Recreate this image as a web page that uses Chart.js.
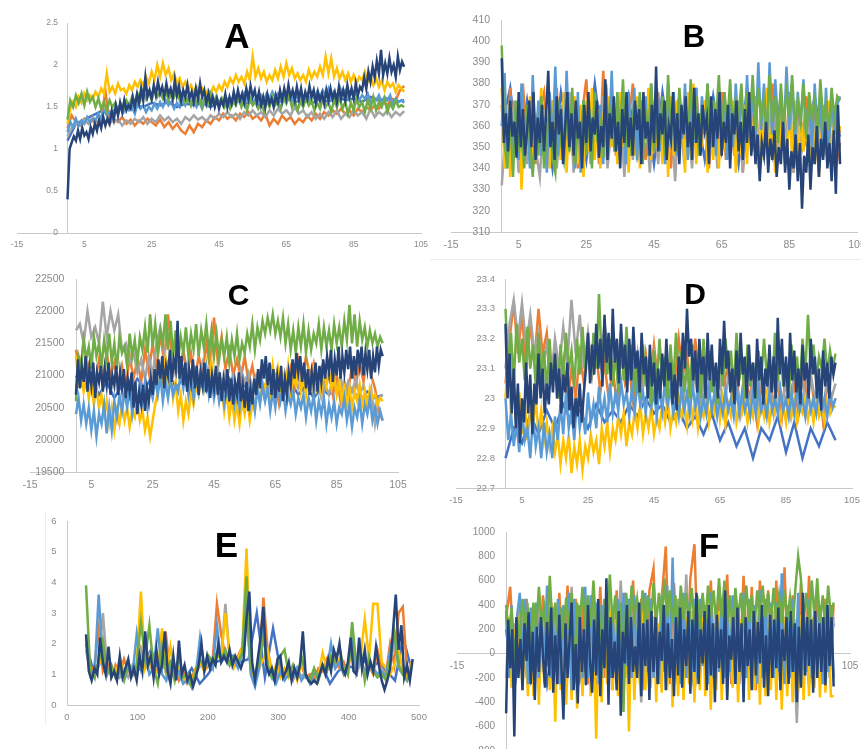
<!DOCTYPE html>
<html>
<head>
<meta charset="utf-8">
<script src="https://cdn.jsdelivr.net/npm/chart.js@4.4.1/dist/chart.umd.min.js"></script>
<style>
  html, body { margin: 0; padding: 0; background: #fff; width: 861px; height: 749px; overflow: hidden; }
  canvas { position: absolute; }
  .ttl { position: absolute; font-family: "Liberation Sans", Arial, sans-serif; font-weight: bold; color: #000; line-height: 1; transform: translate(-50%, -50%); }
  .rule { position: absolute; background: #ececec; }
</style>
</head>
<body>
<div class="rule" style="left:430px;top:259px;width:431px;height:1px"></div>
<div class="rule" style="left:45px;top:512px;width:1px;height:212px"></div>
<script>
// tick labels
const ticksX = [-15, 5, 25, 45, 65, 85, 105];
const ticksXE = [0, 100, 200, 300, 400, 500];
const ticksYA = [0, 0.5, 1, 1.5, 2, 2.5];
const ticksYB = [310, 320, 330, 340, 350, 360, 370, 380, 390, 400, 410];
const ticksYC = [19500, 20000, 20500, 21000, 21500, 22000, 22500];
const ticksYD = [22.7, 22.8, 22.9, 23, 23.1, 23.2, 23.3, 23.4];
const ticksYE = [0, 1, 2, 3, 4, 5, 6];
const ticksYF = [-800, -600, -400, -200, 0, 200, 400, 600, 800, 1000];

const navy = '#264478', green = '#70AD47', lblue = '#5B9BD5', yellow = '#FFC000',
      gray = '#A5A5A5', orange = '#ED7D31', blue = '#4472C4';

// ---- A ----
const aNavy = [0.40,1.00,1.08,1.15,1.10,1.22,1.12,1.25,1.16,1.20,
  1.12,1.26,1.18,1.30,1.22,1.34,1.25,1.38,1.28,1.36,
  1.30,1.45,1.35,1.52,1.40,1.55,1.44,1.58,1.46,1.52,
  1.48,1.62,1.50,1.65,1.55,1.72,1.58,1.85,1.62,1.70,
  1.60,1.76,1.64,1.80,1.66,1.74,1.62,1.78,1.65,1.72,
  1.60,1.82,1.64,1.75,1.58,1.70,1.62,1.76,1.60,1.68,
  1.56,1.72,1.60,1.78,1.62,1.70,1.55,1.66,1.52,1.62,
  1.50,1.60,1.48,1.58,1.52,1.65,1.50,1.62,1.54,1.68,
  1.56,1.70,1.58,1.66,1.55,1.72,1.60,1.75,1.62,1.70,
  1.56,1.68,1.52,1.62,1.50,1.65,1.54,1.60,1.50,1.64,
  1.55,1.70,1.58,1.72,1.60,1.76,1.62,1.70,1.58,1.74,
  1.60,1.72,1.56,1.68,1.60,1.75,1.62,1.70,1.55,1.68,
  1.58,1.66,1.54,1.70,1.58,1.72,1.60,1.68,1.56,1.74,
  1.60,1.70,1.58,1.76,1.62,1.72,1.60,1.78,1.64,1.74,
  1.70,1.85,1.72,1.92,1.80,1.98,1.85,2.05,1.90,2.18,
  1.88,2.02,1.90,2.08,1.92,2.00,1.86,2.10,1.94,2.04,1.98];
const aGreen = [1.35,1.58,1.50,1.64,1.55,1.66,1.52,1.68,1.56,1.62,
  1.50,1.60,1.48,1.56,1.45,1.58,1.50,1.55,1.46,1.54,
  1.48,1.58,1.52,1.62,1.55,1.66,1.58,1.70,1.60,1.68,
  1.58,1.72,1.62,1.68,1.60,1.70,1.58,1.66,1.62,1.72,
  1.58,1.66,1.55,1.62,1.52,1.64,1.55,1.60,1.50,1.62,
  1.54,1.66,1.56,1.62,1.52,1.60,1.50,1.58,1.48,1.56,
  1.52,1.62,1.50,1.58,1.46,1.60,1.52,1.56,1.48,1.55,
  1.45,1.58,1.50,1.62,1.52,1.56,1.48,1.60,1.54,1.64,
  1.50,1.58,1.46,1.56,1.50,1.60,1.52,1.58,1.46,1.55,
  1.48,1.60,1.50,1.56,1.44,1.58,1.50,1.62,1.48,1.56,
  1.42,1.55,1.46,1.60,1.50,1.56,1.44,1.58,1.48,1.62,
  1.46,1.56,1.50,1.60,1.44,1.54,1.48,1.58,1.50,1.52,1.50];
const aLblue = [1.20,1.32,1.26,1.36,1.28,1.34,1.30,1.38,1.32,1.36,
  1.34,1.42,1.36,1.46,1.40,1.44,1.38,1.48,1.42,1.50,
  1.44,1.52,1.46,1.50,1.42,1.54,1.48,1.52,1.44,1.50,
  1.46,1.54,1.48,1.56,1.50,1.58,1.52,1.56,1.48,1.55,
  1.50,1.58,1.52,1.60,1.54,1.58,1.50,1.56,1.48,1.58,
  1.52,1.60,1.54,1.62,1.56,1.60,1.52,1.58,1.50,1.60,
  1.54,1.62,1.56,1.66,1.58,1.62,1.54,1.60,1.56,1.64,
  1.58,1.66,1.60,1.68,1.62,1.66,1.58,1.64,1.56,1.62,
  1.58,1.66,1.60,1.64,1.56,1.62,1.58,1.66,1.60,1.68,
  1.62,1.70,1.64,1.72,1.60,1.68,1.62,1.74,1.66,1.70,
  1.60,1.68,1.62,1.66,1.58,1.64,1.60,1.66,1.56,1.62,
  1.58,1.64,1.55,1.62,1.58,1.64,1.52,1.60,1.56,1.58,1.55];
const aYellow = [1.30,1.48,1.56,1.50,1.62,1.55,1.66,1.58,1.64,1.60,
  1.68,1.62,1.72,1.66,1.90,1.68,1.74,1.66,1.78,1.70,
  1.72,1.66,1.76,1.70,1.80,1.74,1.82,1.76,1.86,1.78,
  1.92,1.82,2.00,1.86,2.02,1.88,1.96,1.82,1.90,1.78,
  1.84,1.74,1.80,1.70,1.76,1.68,1.74,1.66,1.72,1.64,
  1.70,1.66,1.74,1.68,1.76,1.70,1.80,1.74,1.84,1.78,
  1.88,1.80,1.86,1.78,1.92,1.82,2.10,1.86,1.96,1.84,
  1.92,1.80,1.88,1.82,1.94,1.84,1.98,1.86,2.02,1.88,
  1.96,1.84,1.90,1.82,1.88,1.80,1.94,1.84,1.92,1.86,
  1.98,1.88,2.10,1.90,2.08,1.86,1.96,1.84,1.92,1.82,
  1.90,1.80,1.88,1.78,1.86,1.82,1.92,1.80,1.86,1.76,
  1.84,1.74,1.82,1.70,1.80,1.74,1.78,1.68,1.76,1.72,1.68];
const aGray = [1.15,1.25,1.30,1.28,1.35,1.30,1.38,1.32,1.36,1.30,1.38,1.32,1.35,1.28,1.34,1.30,1.36,1.32,1.38,1.30,1.36,1.32,1.40,1.34,1.38,1.32,1.36,1.30,1.38,1.34,1.40,1.35,1.38,1.33,1.40,1.36,1.42,1.38,1.44,1.38,1.42,1.36,1.44,1.40,1.46,1.40,1.44,1.38,1.46,1.40,1.48,1.42,1.46,1.40,1.50,1.42,1.46,1.38,1.44,1.36,1.42,1.36,1.44,1.38,1.46,1.36,1.42,1.38,1.46,1.40,1.44,1.36,1.48,1.38,1.44,1.40,1.46,1.38,1.44,1.40,1.45];
const aOrange = [1.25,1.40,1.32,1.28,1.36,1.30,1.34,1.28,1.32,1.70,1.30,1.36,1.32,1.38,1.30,1.35,1.28,1.34,1.30,1.36,1.32,1.28,1.35,1.26,1.32,1.24,1.30,1.22,1.18,1.28,1.20,1.30,1.26,1.34,1.30,1.38,1.34,1.42,1.36,1.40,1.34,1.42,1.38,1.44,1.36,1.40,1.34,1.42,1.28,1.36,1.30,1.40,1.34,1.38,1.30,1.36,1.32,1.40,1.34,1.42,1.36,1.44,1.40,1.46,1.42,1.48,1.42,1.46,1.40,1.48,1.44,1.50,1.46,1.52,1.48,1.56,1.52,1.60,1.58,1.70,1.75];
const aBlue = [1.10,1.30,1.35,1.40,1.45,1.42,1.50,1.48,1.52,1.50,1.55,1.52,1.56,1.50,1.54,1.52,1.55,1.50,1.56,1.52,1.58,1.54,1.56,1.52,1.58,1.55,1.60,1.56,1.58,1.54,1.60,1.56,1.62,1.58,1.60,1.56,1.62,1.58,1.60,1.56,1.58];

// ---- B ----
const bNavy = [392,352,366,348,372,355,362,345,376,350,
  368,346,358,372,350,376,344,364,352,370,
  348,366,386,350,362,344,374,356,368,342,
  360,376,350,366,346,372,354,362,340,370,
  352,376,348,364,356,372,345,360,350,382,
  344,366,354,374,348,362,340,368,352,376,
  350,364,346,372,358,368,342,376,354,362,
  346,370,352,388,348,366,356,372,344,360,
  354,376,348,366,342,370,356,374,350,362,
  344,378,352,366,346,370,358,364,342,374,
  350,368,354,376,346,362,352,370,340,366,
  356,372,348,362,344,368,352,376,346,360,
  342,356,334,352,346,362,338,354,344,358,
  336,350,342,362,338,354,330,348,340,356,
  334,352,321,346,338,356,330,350,342,360,
  336,354,344,362,340,352,334,358,328,370,342];
const bGreen = [398,352,340,366,336,372,348,358,340,370,
  352,336,362,346,374,340,356,368,345,338,
  372,352,344,366,348,378,342,360,350,372,
  346,368,340,376,352,364,345,380,354,370,
  348,376,356,382,350,366,346,372,358,376,
  342,368,354,380,348,362,352,374,346,384,
  356,370,348,378,360,366,350,382,354,374,
  346,368,356,380,350,372,362,384,354,376,
  360,382,356,372,364,380,352,376,360,384,
  358,378,364,372,356,384,362,374,352,380,
  360,376,366,384,358,372,362,380,354,376,
  364,372,356,382,362,370,358,378,364,374,372];
const bLblue = [360,385,342,374,350,368,344,380,352,366,
  340,384,350,372,346,364,338,376,352,388,
  346,370,344,386,354,368,340,376,338,372,
  350,366,344,376,356,370,342,378,352,386,
  348,372,354,368,342,376,350,378,344,370,
  352,374,346,380,354,378,348,372,342,380,
  350,376,346,372,354,380,344,370,352,378,
  348,374,356,380,350,372,346,378,352,376,
  344,372,350,380,356,376,348,384,354,378,
  352,390,358,380,350,390,356,382,362,376,
  354,388,358,380,352,376,360,382,356,374,
  348,380,354,372,346,378,350,374,356,370,374];
const bYellow = [378,340,370,336,364,346,372,330,360,348,
  374,342,366,352,378,344,364,340,372,348,
  368,344,376,338,366,346,374,342,370,336,
  372,348,378,344,368,340,366,346,374,350,
  368,342,376,350,370,338,364,346,374,340,
  368,352,378,344,372,350,366,342,370,336,
  374,346,372,344,368,338,376,346,380,342,
  366,350,372,338,364,344,370,340,368,352,
  360,344,372,338,364,346,370,342,376,348,
  366,340,372,344,378,346,362,338,370,350,
  364,342,368,346,372,340,366,348,360,344,
  370,342,366,350,362,346,372,344,368,352,360];
const bGray = [332,360,345,372,338,366,342,370,350,336,368,346,372,340,364,348,376,338,362,350,370,342,366,346,374,340,360,352,368,336,372,344,366,348,370,338,364,342,372,350,366,334,370,346,362,340,372,348,366,344,370,340,362,352,368,346,372,338,366,350,374,342,368,346,372,340,366,344,370,338,362,350,368,344,360,352,370,346,366,348,358];
const bOrange = [370,340,378,346,362,380,350,372,342,368,376,345,360,378,344,370,352,374,340,366,382,348,372,342,386,350,368,346,374,340,362,380,348,372,344,368,352,376,346,370,340,366,374,350,362,344,378,348,372,340,366,350,376,344,368,346,372,338,366,352,374,340,370,346,380,344,370,342,376,338,366,348,374,342,370,336,368,344,372,340,352];
const bBlue = [360,378,342,372,346,368,340,376,352,370,344,380,348,366,350,374,346,370,342,376,348,372,350,368,344,374,348,370,342,378,350,366,346,372,340,368,352,374,348,366,355];

// ---- C ----
const cNavy = [20700,21250,20800,21150,20900,21300,20750,21100,20850,21200,
  20650,21050,20900,21150,20750,21100,20850,21200,20700,21000,
  20850,21150,20700,21050,20800,21100,20650,20950,20750,21050,
  20500,20900,20400,20750,20550,20850,20450,20800,20600,20950,
  20700,21100,20850,21250,20950,21300,20800,21150,21000,21400,
  20900,21250,21100,21850,20950,21300,20850,21200,20750,21100,
  20900,21250,20800,21150,20700,21050,20850,21200,20750,21100,
  20650,21000,20800,21150,20700,21050,20600,20950,20750,21100,
  20600,20950,20550,20900,20700,21050,20600,20850,20500,20900,
  20450,20800,20550,20950,20700,21100,20800,21250,20950,21300,
  20850,21200,20700,21100,20650,21000,20750,21150,20600,20950,
  20700,21050,20850,21250,20950,21350,21050,21300,20900,21200,
  20800,21100,20700,21050,20850,21200,20750,21150,20900,21250,
  20950,21300,21050,21400,20900,21250,21000,21450,20950,21300,
  21050,21400,21100,21450,20950,21300,21000,21400,21150,21450,
  21000,21350,21100,21400,20950,21300,21050,21450,21150,21400,21300];
const cGreen = [20600,21300,21150,21550,21250,21450,21100,21600,21300,21500,
  21150,21550,21250,21650,21200,21500,21100,21600,21350,21450,
  21150,21650,21300,21550,21200,21600,21400,21750,21350,21950,
  21450,21800,21350,21700,21500,21950,21400,21850,21300,21700,
  21250,21600,21350,21750,21300,21650,21400,21800,21300,21700,
  21450,21800,21350,21700,21300,21650,21250,21550,21300,21600,
  21200,21550,21300,21650,21250,21500,21350,21650,21450,21800,
  21400,21750,21550,21850,21650,21900,21700,21950,21650,21850,
  21600,21900,21500,21800,21400,21700,21350,21750,21450,21800,
  21350,21700,21400,21650,21500,21800,21400,21750,21450,21700,
  21400,21800,21500,21750,21450,21850,21550,22100,21500,21950,
  21450,21850,21550,21750,21450,21700,21500,21650,21450,21600,21500];
const cLblue = [20400,20650,20300,20550,20250,20500,20150,20450,20050,20400,
  20250,20550,20100,20500,20150,20600,20350,20700,20450,20750,
  20500,20800,20400,20700,20550,20850,20600,20900,20500,20800,
  20650,20950,20700,21000,20600,20900,20650,20950,20700,20850,
  20750,21050,20800,21100,20700,20950,20650,21000,20750,21050,
  20800,21100,20700,20950,20650,20900,20600,20850,20550,20800,
  20650,20900,20550,20800,20500,20850,20600,20900,20500,20750,
  20450,20800,20550,20850,20600,20800,20450,20750,20500,20850,
  20600,20800,20450,20700,20550,20750,20400,20650,20500,20700,
  20350,20650,20450,20700,20300,20600,20400,20650,20250,20550,
  20350,20600,20250,20500,20400,20650,20300,20550,20200,20500,
  20350,20600,20250,20550,20400,20650,20300,20500,20250,20450,20300];
const cYellow = [21300,20900,21050,20750,20950,20650,20900,20550,20800,20500,
  20700,20400,20600,20250,20500,20150,20450,20250,20550,20300,
  20500,20200,20450,20350,20600,20300,20450,20150,20350,20050,
  20300,20550,20750,21000,20900,21250,20800,21100,20650,20900,
  20450,20700,20300,20600,20400,20750,20550,20850,20700,21000,
  20800,21150,20750,21200,20900,21050,20650,20850,20450,20750,
  20350,20650,20300,20550,20250,20600,20400,20650,20300,20550,
  20450,20850,20600,20900,20800,21050,20700,21150,20850,21100,
  20750,21000,20800,21150,20700,20950,20850,21100,20750,21000,
  20700,21050,20850,21100,20800,21000,20750,21100,20850,21050,
  20800,21000,20700,20900,20600,20850,20550,20800,20500,20750,
  20600,20850,20550,20750,20500,20800,20650,20700,20550,20650,20600];
const cGray = [21700,21800,21500,22000,21600,21750,21500,22150,21600,22000,21700,21950,21400,21500,21200,21350,21050,21250,20950,21300,21000,21500,21750,21350,21150,21300,21000,21200,20900,21150,20850,21100,20950,21200,21000,21150,20900,21100,20850,21050,20800,21000,20750,21100,20900,21050,20800,21000,20850,21050,20900,21100,20750,21000,20800,21050,20700,20950,20800,21000,20850,20950,20700,20900,20650,20850,20700,20950,20800,21000,20650,20900,20750,20950,20700,20850,20600,20800,20250,20650,20700];
const cOrange = [21400,21000,21550,21100,21300,20900,21250,20950,21350,21000,21200,20850,21150,20800,21300,20950,21250,20900,21400,21050,21500,21100,21650,21200,21950,21300,21550,21100,21400,21000,21350,20950,21300,21050,21500,21100,21900,21200,21600,21100,21400,21000,21250,20950,21300,20900,21150,20800,21050,20700,21000,20650,20950,20550,20850,20700,21100,20800,21250,20950,21300,21000,21200,20900,21100,20800,21050,20700,21000,20600,20900,20750,21150,20850,21200,20900,21300,21000,20800,20450,20300];
const cBlue = [21000,20800,20950,20700,20900,20650,20850,20750,20950,20800,21000,20850,21050,20800,20950,20700,20900,20750,21000,20800,20950,20700,20850,20750,20900,20800,21000,20750,20900,20700,20850,20650,20800,20700,20850,20650,20800,20600,20750,20650,20700];

// ---- D ----
const dNavy = [23.25,23.00,23.15,22.95,23.10,22.90,23.05,22.85,23.00,22.92,
  23.12,22.95,23.08,22.88,23.05,22.98,23.15,23.00,23.10,22.95,
  23.05,22.98,23.12,23.02,23.15,23.00,23.10,22.95,23.08,23.02,
  23.12,22.96,23.04,22.90,23.00,22.94,23.05,22.92,23.02,23.10,
  23.22,23.05,23.18,23.08,23.25,23.10,23.20,23.04,23.28,23.12,
  23.22,23.06,23.30,23.12,23.20,23.05,23.25,23.10,23.18,23.02,
  23.20,23.06,23.24,23.10,23.16,23.02,23.22,23.08,23.14,23.00,
  23.18,23.04,23.12,22.98,23.10,23.00,23.15,23.04,23.20,23.06,
  23.12,22.98,23.08,22.96,23.14,23.04,23.22,23.10,23.30,23.14,
  23.20,23.06,23.16,23.02,23.20,23.08,23.14,23.00,23.22,23.06,
  23.18,23.04,23.12,23.00,23.20,23.08,23.26,23.10,23.16,23.02,
  23.10,22.98,23.16,23.04,23.22,23.08,23.14,23.00,23.18,23.06,
  23.12,23.00,23.20,23.06,23.14,22.98,23.10,23.04,23.18,23.02,
  23.14,23.00,23.27,23.08,23.20,23.04,23.14,23.00,23.22,23.06,
  23.16,23.02,23.10,22.98,23.18,23.06,23.12,23.00,23.20,23.08,
  23.14,23.00,23.10,22.96,23.16,23.04,23.12,23.00,23.14,23.08,23.12];
const dGreen = [23.30,23.10,23.22,23.05,23.25,23.12,23.20,23.06,23.24,23.10,
  23.18,23.04,23.22,23.08,23.16,23.02,23.20,23.06,23.14,23.00,
  23.18,23.06,23.22,23.10,23.16,23.04,23.20,23.08,23.24,23.10,
  23.18,23.06,23.22,23.10,23.35,23.12,23.22,23.08,23.20,23.04,
  23.16,23.02,23.20,23.06,23.24,23.08,23.18,23.02,23.14,23.00,
  23.18,23.04,23.12,22.98,23.16,23.04,23.20,23.06,23.14,23.00,
  23.18,23.04,23.22,23.08,23.16,23.02,23.12,23.00,23.18,23.06,
  23.14,23.00,23.20,23.06,23.16,23.02,23.10,22.98,23.14,23.04,
  23.20,23.08,23.16,23.02,23.22,23.06,23.14,23.00,23.18,23.04,
  23.12,23.00,23.16,23.06,23.20,23.08,23.14,23.02,23.22,23.06,
  23.16,23.04,23.12,23.00,23.18,23.06,23.14,23.02,23.20,23.08,
  23.28,23.10,23.18,23.06,23.14,23.10,23.20,23.08,23.16,23.10,23.15];
const dLblue = [23.00,22.86,22.95,22.84,22.92,22.82,22.96,22.86,22.90,22.80,
  22.94,22.84,22.90,22.80,22.92,22.82,22.88,22.80,22.94,22.86,
  22.98,22.88,23.02,22.90,22.96,22.86,23.00,22.90,22.96,22.88,
  23.02,22.92,22.98,22.90,23.04,22.94,23.00,22.92,23.05,22.95,
  23.02,22.96,23.06,22.98,23.02,22.94,23.04,22.96,23.06,22.98,
  23.02,22.95,23.05,22.97,23.02,22.94,23.04,22.96,23.06,22.98,
  23.03,22.95,23.00,22.94,23.04,22.96,23.02,22.95,23.05,22.97,
  23.02,22.94,23.00,22.95,23.04,22.96,23.02,22.94,23.00,22.95,
  23.03,22.96,23.00,22.94,23.04,22.95,23.02,22.96,23.00,22.94,
  23.02,22.95,23.04,22.96,23.00,22.94,23.02,22.96,23.00,22.95,
  23.03,22.96,23.00,22.94,23.02,22.95,23.04,22.96,23.00,22.94,
  23.02,22.96,23.00,22.95,23.03,22.96,23.00,22.94,23.02,22.97,23.00];
const dYellow = [23.00,23.15,22.94,23.08,22.90,23.02,22.88,22.98,22.86,22.96,
  22.90,23.00,22.88,22.96,22.86,22.92,22.84,22.90,22.82,22.88,
  22.78,22.86,22.80,22.88,22.75,22.84,22.78,22.86,22.76,22.84,
  22.80,22.88,22.82,22.86,22.78,22.90,22.84,22.92,22.82,22.90,
  22.86,22.94,22.88,22.95,22.84,22.92,22.88,22.96,22.90,22.98,
  22.88,22.95,22.90,22.97,22.88,22.94,22.90,22.98,22.92,23.00,
  22.90,22.96,22.92,23.00,22.94,22.98,22.91,23.02,22.93,22.99,
  22.90,22.97,22.94,23.02,22.92,22.98,22.95,23.04,22.93,23.00,
  22.91,22.98,22.94,23.02,22.92,22.97,22.95,23.00,22.92,22.98,
  22.94,23.02,22.92,22.99,22.94,23.03,22.92,22.98,22.95,23.00,
  22.93,22.98,22.92,23.01,22.94,22.99,22.92,22.97,22.95,23.00,
  22.93,22.98,22.92,23.00,22.94,22.97,22.92,22.99,22.95,22.98,22.97];
const dGray = [23.10,23.25,23.33,23.20,23.32,23.18,23.28,23.15,23.22,23.10,23.18,23.05,23.20,23.10,23.24,23.12,23.33,23.15,23.28,23.10,23.22,23.08,23.20,23.12,23.25,23.15,23.20,23.10,23.22,23.12,23.18,23.05,23.15,23.00,23.12,23.02,23.15,23.05,23.10,23.00,23.12,23.02,23.08,22.98,23.10,23.00,23.08,22.95,23.05,22.98,23.10,23.00,23.06,22.96,23.08,23.00,23.05,22.95,23.08,22.98,23.05,22.95,23.10,23.00,23.05,22.95,23.08,22.98,23.05,22.95,23.10,23.00,23.06,22.96,23.08,23.00,23.05,22.95,23.08,23.00,23.05];
const dOrange = [23.05,23.20,23.32,23.15,23.28,23.10,23.25,23.12,23.30,23.15,23.22,23.05,23.18,23.00,23.12,22.98,23.10,23.00,23.15,23.05,23.20,23.08,23.15,23.02,23.12,23.00,23.10,22.98,23.15,23.05,23.10,22.98,23.12,23.02,23.15,23.05,23.18,23.05,23.12,23.00,23.15,23.05,23.20,23.08,23.15,23.02,23.20,23.05,23.15,23.00,23.10,22.98,23.15,23.05,23.12,23.00,23.08,22.95,23.10,23.00,23.06,22.92,23.05,22.96,23.08,22.98,23.05,22.94,23.10,22.98,23.05,22.95,23.12,23.00,23.08,22.96,23.05,22.92,23.06,22.96,23.00];
const dBlue = [22.80,22.90,22.85,22.95,22.88,22.96,22.90,22.98,22.92,22.96,22.90,22.98,22.92,22.96,22.92,22.98,22.94,23.00,22.95,22.98,22.92,22.96,22.90,22.94,22.88,22.95,22.86,22.92,22.84,22.90,22.80,22.90,22.86,22.94,22.82,22.92,22.80,22.90,22.84,22.92,22.86];

// ---- E ----
const eNavy = [2.3,1.1,0.8,1.2,1.0,2.2,1.4,1.0,1.9,0.9,1.1,0.8,1.6,0.9,1.2,1.5,0.9,1.2,0.8,1.6,1.1,2.4,1.3,1.6,0.9,1.8,1.0,1.3,2.4,1.1,0.7,1.6,0.8,2.1,1.0,1.3,0.8,1.0,0.6,0.9,1.3,2.0,1.1,1.6,1.2,1.5,1.3,2.0,1.4,1.6,1.4,1.8,1.3,1.6,1.4,1.2,1.5,2.8,3.7,1.4,0.8,1.5,2.2,3.2,1.3,1.0,1.2,0.8,1.5,1.6,0.9,1.1,1.4,0.8,1.2,0.9,1.3,2.4,1.0,0.8,0.7,0.8,0.7,1.0,1.3,1.0,1.5,1.1,1.8,1.5,2.0,1.2,1.0,1.4,2.2,1.1,1.0,2.2,1.2,1.8,1.0,1.4,1.1,1.9,1.3,0.8,0.5,0.8,1.2,2.4,3.6,1.8,2.6,0.9,1.3,0.8,1.5];
const eGreen = [3.9,1.1,0.9,1.4,2.1,1.0,1.3,0.9,1.2,0.8,1.4,1.0,1.3,2.7,1.5,2.6,1.2,0.7,1.9,1.1,1.4,0.8,1.6,0.9,1.0,0.6,1.1,1.5,1.2,1.6,1.4,1.7,1.5,1.8,1.3,1.6,1.4,1.7,4.2,1.2,1.0,1.4,2.2,1.3,0.9,1.2,1.6,1.8,1.0,1.3,0.9,1.6,1.0,0.8,1.2,0.8,1.3,1.1,1.6,1.4,1.9,1.2,1.0,2.7,1.3,1.8,0.8,1.6,1.1,0.9,1.0,0.8,1.5,2.4,1.3,1.0,0.8,1.2];
const eLblue = [2.0,1.2,0.9,3.6,1.4,1.0,1.3,0.9,1.1,0.8,1.2,1.0,2.3,1.2,1.7,1.0,1.2,2.5,1.0,0.8,1.3,0.9,1.1,0.7,0.8,0.6,1.0,2.2,1.3,1.5,1.2,2.6,1.4,1.6,1.3,1.5,1.2,1.7,3.4,1.0,0.6,1.2,2.6,1.2,0.9,0.7,1.1,0.8,1.0,0.9,1.2,0.8,1.0,0.7,1.1,0.9,1.3,1.1,2.0,1.2,1.4,1.0,1.2,2.2,1.1,1.6,1.0,1.3,1.2,1.0,1.1,0.9,1.8,2.3,1.2,1.0,0.8,1.1];
const eYellow = [2.0,1.2,0.9,1.3,1.6,1.1,1.2,1.0,1.5,1.1,1.3,1.0,1.4,3.7,1.2,1.6,1.0,1.1,2.5,1.0,1.9,0.9,1.2,0.8,1.0,0.7,1.2,1.4,1.1,1.5,1.3,1.6,1.5,3.0,1.6,1.2,1.5,1.9,5.1,1.3,0.8,1.2,1.5,1.8,1.0,1.3,0.9,1.2,0.9,1.3,0.8,1.4,1.0,0.8,1.1,0.9,1.7,1.2,1.4,1.2,1.5,1.0,1.3,1.6,1.2,1.6,2.8,1.5,3.3,3.3,1.4,1.2,1.0,1.3,1.8,1.1,0.9,1.4];
const eGray = [1.8,1.1,1.0,1.4,3.0,1.2,1.0,1.2,0.9,1.1,0.9,1.3,1.1,1.8,1.2,1.5,1.0,1.1,1.6,1.0,1.3,0.8,1.0,0.7,0.9,0.6,1.0,1.3,1.2,1.6,1.4,1.7,1.5,3.3,1.5,1.3,1.4,1.8,3.0,1.1,0.8,1.3,2.4,1.2,1.0,0.9,1.2,0.9,1.1,0.8,1.2,0.9,1.0,0.8,1.0,0.9,1.3,1.1,1.5,1.2,1.4,1.1,1.3,1.9,1.0,1.4,1.1,1.2,1.1,1.0,1.2,0.9,1.4,2.0,1.3,1.1,0.9,1.2];
const eOrange = [2.2,1.0,1.3,2.5,1.1,1.4,0.9,1.3,1.0,1.5,1.1,1.2,0.9,1.8,1.2,1.4,1.0,1.2,1.6,2.2,1.0,1.3,0.8,1.1,0.7,0.9,1.2,1.4,1.1,1.3,1.5,3.3,2.3,1.6,1.4,1.3,1.6,1.9,3.2,1.2,0.9,1.5,3.5,1.8,1.1,0.9,1.3,1.0,1.2,0.9,1.1,1.3,0.9,1.0,0.8,1.2,1.1,1.5,1.3,1.6,1.2,1.4,1.0,2.3,1.2,1.5,1.1,1.3,1.0,1.8,1.2,1.0,2.0,1.3,3.0,3.2,1.1,1.3];
const eBlue = [2.0,1.0,1.5,1.1,0.9,1.2,1.0,1.3,1.8,1.1,1.4,1.0,0.8,1.2,0.7,1.0,1.4,1.5,1.6,1.4,1.5,3.0,0.9,2.5,1.0,1.2,0.9,1.0,0.8,1.3,0.7,1.1,1.3,1.2,1.5,1.2,1.4,1.1,0.8,2.2,1.2];

// ---- F ----
const fNavy = [-490,280,-120,200,-680,300,-200,120,-300,250,
  -60,340,-250,180,-380,220,-150,300,-20,-280,
  260,-180,380,-320,150,-250,320,-100,-540,250,
  -200,120,420,-300,80,-410,300,-150,200,-260,
  400,-60,-320,280,-180,450,-350,200,-120,620,
  -420,300,-200,100,-300,350,-510,180,-80,400,
  -250,300,-150,60,-200,420,-350,250,-100,280,
  -380,350,-150,300,-250,180,-60,400,-300,250,
  -200,120,-350,300,-180,380,-280,200,-100,350,
  -330,280,-150,500,-250,200,-80,350,-300,400,
  -180,250,-400,320,-120,200,-250,520,-380,150,
  -50,300,-250,380,-150,250,-400,300,-100,200,
  -300,350,-180,260,-80,400,-280,150,-350,320,
  -200,280,-120,380,-300,200,-60,300,-250,350,
  -150,250,-400,220,-280,500,-180,300,-100,280,
  -320,350,-200,250,-150,300,-260,400,-100,300,-270];
const fGreen = [400,150,380,-150,300,120,450,220,350,80,
  420,180,550,250,380,100,640,200,420,150,
  380,120,460,200,500,-250,420,260,550,150,
  480,220,600,180,400,-200,450,200,650,250,
  480,150,420,-480,500,200,560,300,450,220,
  520,250,480,200,580,260,500,220,620,300,
  520,250,480,200,560,280,500,220,540,260,
  480,200,500,250,560,300,520,250,620,300,
  600,250,480,200,540,280,500,220,560,260,
  480,210,520,270,560,300,500,240,540,280,
  480,250,520,280,460,220,540,800,620,260,
  500,240,600,300,620,250,480,220,560,300,420];
const fLblue = [350,-200,400,-150,300,500,-100,450,-250,380,
  -150,420,-200,350,-100,560,-200,380,-150,450,
  -250,400,-100,500,-300,450,-150,400,-200,550,
  -200,480,-150,420,-250,400,-100,500,-200,380,
  -150,450,-250,500,-100,450,-200,480,-150,400,
  -300,500,-150,450,-200,380,-250,480,-150,560,
  -200,790,-100,400,-250,500,-200,420,-150,450,
  -200,450,-100,400,-250,500,-200,380,-150,450,
  -200,420,-150,480,-250,400,-100,500,-200,450,
  -150,400,-250,520,-200,450,-100,420,-200,420,
  -150,660,-250,400,-200,450,-150,500,-250,380,
  -150,450,-200,420,-100,400,-250,380,-150,400,-200];
const fYellow = [-200,300,-280,200,-100,350,-300,150,-350,250,
  -350,300,-420,200,-250,350,-300,200,-560,250,
  -300,400,-420,200,-380,300,-450,250,-350,300,
  300,-350,200,-700,250,-400,300,-250,350,-300,
  280,-350,400,-420,250,-640,300,-380,250,-250,
  350,-300,200,-280,300,-400,250,-320,350,-300,
  280,-440,300,-350,250,-380,300,-250,350,-400,
  250,-300,300,-350,280,-460,250,-300,350,-380,
  250,-350,300,-280,250,-400,280,-320,300,-380,
  250,-300,280,-420,300,-350,250,-300,350,-380,
  280,-460,300,-350,250,-400,280,-300,320,-380,
  250,-350,300,-280,250,-360,300,-320,280,-350,-350];
const fGray = [300,-100,250,-150,350,-200,300,-100,450,-150,
  350,-200,300,-250,400,-150,550,-200,300,-150,
  350,-200,400,-100,300,-250,350,-150,600,-200,
  300,-100,350,-400,400,-150,300,-200,350,-100,
  400,-250,450,-150,650,-200,350,-100,400,-250,
  300,-200,350,-150,400,-200,300,-250,350,-150,
  400,-200,300,-150,350,-200,400,-250,300,-150,
  350,-570,300,-150,350,-200,300,-150,350,-200,300];
const fOrange = [300,550,-100,400,-200,450,-150,380,-250,480,
  -100,420,-200,500,-150,560,-200,450,-100,520,
  -250,480,-150,550,-200,480,-300,520,-200,500,
  -150,600,-100,450,-250,520,700,-200,450,880,
  -250,580,-100,500,-200,620,900,-150,480,-300,
  600,-200,550,-100,650,-250,500,-200,640,-150,
  550,-300,600,-200,520,-150,600,-250,710,-200,
  480,-300,580,-150,640,-250,500,-200,450,-150,400];
const fBlue = [200,-300,250,-200,300,-250,200,-150,300,-200,250,-300,200,-150,300,-250,200,-200,250,-150,300,-250,200,-300,250,-200,300,-150,250,-200,300,-250,200,-150,250,-200,300,-250,200,-150,250];

// spread a series evenly over its x span
function spread(vals, x0, x1) {
  const step = (x1 - x0) / (vals.length - 1);
  return vals.map((v, i) => ({ x: x0 + i * step, y: v }));
}

function stack(list, x0, x1) {
  // first entry is drawn on top
  return list.map(([vals, color]) => ({ vals, color, x0, x1 }));
}

const panels = [
  { title: 'A', tx: 237, ty: 35, ts: 35, fs: 8.5, box: { l: 17, r: 420.7, t: 22.5, b: 232.7 },
    x: [-15, 105], y: [0, 2.5], xt: ticksX, yt: ticksYA, xAt: 0,
    series: stack([[aNavy, navy], [aGreen, green], [aLblue, lblue], [aYellow, yellow], [aGray, gray], [aOrange, orange], [aBlue, blue]], 0, 100) },
  { title: 'B', tx: 694, ty: 36, ts: 31, fs: 10.5, box: { l: 451.3, r: 856.9, t: 19.5, b: 231 },
    x: [-15, 105], y: [310, 410], xt: ticksX, yt: ticksYB, xAt: 310,
    series: stack([[bNavy, navy], [bGreen, green], [bLblue, lblue], [bYellow, yellow], [bGray, gray], [bOrange, orange], [bBlue, blue]], 0, 100) },
  { title: 'C', tx: 238.5, ty: 294.5, ts: 30, fs: 10.5, box: { l: 30, r: 398.3, t: 279.3, b: 472.3 },
    x: [-15, 105], y: [19500, 22500], xt: ticksX, yt: ticksYC, xAt: 19500,
    series: stack([[cNavy, navy], [cGreen, green], [cLblue, lblue], [cYellow, yellow], [cGray, gray], [cOrange, orange], [cBlue, blue]], 0, 100) },
  { title: 'D', tx: 695, ty: 293.5, ts: 30, fs: 9.5, box: { l: 456, r: 851.7, t: 279.3, b: 488.3 },
    x: [-15, 105], y: [22.7, 23.4], xt: ticksX, yt: ticksYD, xAt: 22.7,
    series: stack([[dNavy, navy], [dGreen, green], [dLblue, lblue], [dYellow, yellow], [dGray, gray], [dOrange, orange], [dBlue, blue]], 0, 100) },
  { title: 'E', tx: 226.5, ty: 544, ts: 35, fs: 9.5, box: { l: 66.7, r: 418.3, t: 520.7, b: 704.3 },
    x: [0, 500], y: [0, 6], xt: ticksXE, yt: ticksYE, xAt: 0,
    series: [{ vals: eNavy, color: navy, x0: 27, x1: 491 }].concat(
      stack([[eGreen, green], [eLblue, lblue], [eYellow, yellow], [eGray, gray], [eOrange, orange], [eBlue, blue]], 27, 489)) },
  { title: 'F', tx: 709, ty: 545, ts: 33, fs: 10, box: { l: 457.3, r: 850.7, t: 531.7, b: 750.6 },
    x: [-15, 105], y: [-800, 1000], xt: ticksX, yt: ticksYF, xAt: 0,
    series: stack([[fNavy, navy], [fGreen, green], [fLblue, lblue], [fYellow, yellow], [fGray, gray], [fOrange, orange], [fBlue, blue]], 0, 100) }
];

const PAD = 40;

function axis(range, ticks, pos, pad, size, label) {
  return {
    type: 'linear', min: range[0], max: range[1], position: pos,
    grid: { display: false, drawTicks: false },
    border: { display: true, color: '#c9c9c9', width: 1 },
    ticks: { font: { family: '"Liberation Sans", Arial, sans-serif', size: size }, color: '#8a8a8a',
             padding: pad, autoSkip: false, maxRotation: 0, minRotation: 0, callback: label },
    afterBuildTicks: s => { s.ticks = ticks.map(v => ({ value: v })); }
  };
}

panels.forEach(p => {
  const cv = document.createElement('canvas');
  const w = Math.round(p.box.r - p.box.l + 2 * PAD);
  const h = Math.round(p.box.b - p.box.t + 2 * PAD);
  cv.width = w; cv.height = h;
  cv.style.left = (p.box.l - PAD) + 'px';
  cv.style.top = (p.box.t - PAD) + 'px';
  cv.style.width = w + 'px'; cv.style.height = h + 'px';
  document.body.appendChild(cv);

  new Chart(cv, {
    type: 'line',
    data: {
      datasets: p.series.map(s => ({
        data: spread(s.vals, s.x0, s.x1),
        borderColor: s.color, borderWidth: 2.5, pointRadius: 0, tension: 0, fill: false
      }))
    },
    options: {
      responsive: false, animation: false, events: [],
      layout: { padding: PAD },
      plugins: { legend: { display: false }, tooltip: { enabled: false } },
      scales: {
        x: axis(p.x, p.xt, { y: p.xAt }, 7, p.fs, v => String(v)),
        // y labels sit right on the axis when it is placed by value, so pad with spaces
        y: axis(p.y, p.yt, { x: p.x[0] < 0 ? 0 : p.x[0] }, 0, p.fs, v => String(v) + '    ')
      }
    }
  });

  const t = document.createElement('div');
  t.className = 'ttl';
  t.textContent = p.title;
  t.style.left = p.tx + 'px';
  t.style.top = p.ty + 'px';
  t.style.fontSize = p.ts + 'px';
  document.body.appendChild(t);
});
</script>
</body>
</html>
